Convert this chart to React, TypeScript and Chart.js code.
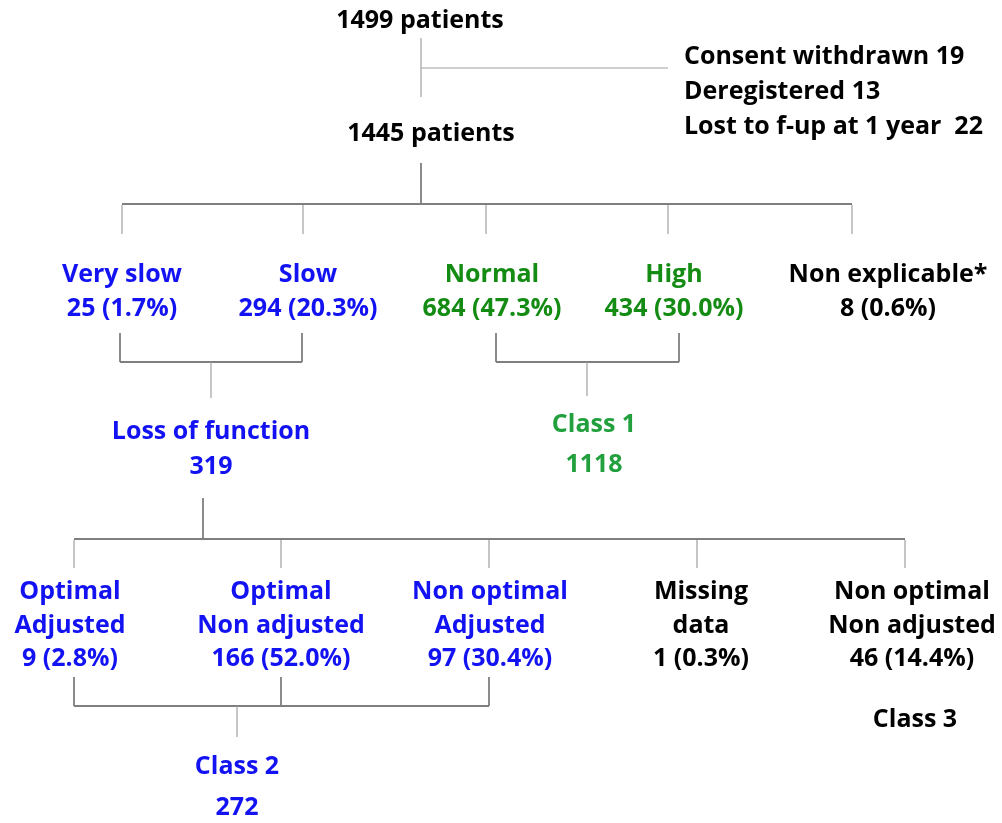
import React, { useEffect, useRef } from "react";
import { Chart, registerables } from "chart.js";

Chart.register(...registerables);

// ---- Colours ----
const BLUE = "#1212f2";
const GREEN = "#148c14";
const GREEN2 = "#22a03e";
const BLACK = "#000000";

// ---- Data: node labels (lines, x-centre, y-centre of first line, colour) ----
const topNodes = [
  { lines: ["1499 patients"], x: 420, y: 19, c: BLACK },
  { lines: ["1445 patients"], x: 431, y: 132, c: BLACK },
];
const exclusionLines = ["Consent withdrawn 19", "Deregistered 13", "Lost to f-up at 1 year  22"];
const exclusionX = 684;
const exclusionY = [55, 90, 125];

const level2Nodes = [
  { lines: ["Very slow", "25 (1.7%)"], x: 122, y: 273, c: BLUE },
  { lines: ["Slow", "294 (20.3%)"], x: 308, y: 273, c: BLUE },
  { lines: ["Normal", "684 (47.3%)"], x: 492, y: 273, c: GREEN },
  { lines: ["High", "434 (30.0%)"], x: 674, y: 273, c: GREEN },
  { lines: ["Non explicable*", "8 (0.6%)"], x: 888, y: 273, c: BLACK },
];
const groupNodes = [
  { lines: ["Loss of function", "319"], x: 211, y: 430, c: BLUE, gap: 35 },
  { lines: ["Class 1", "1118"], x: 594, y: 423, c: GREEN2, gap: 40 },
];
const level3Nodes = [
  { lines: ["Optimal", "Adjusted", "9 (2.8%)"], x: 70, y: 590, c: BLUE },
  { lines: ["Optimal", "Non adjusted", "166 (52.0%)"], x: 281, y: 590, c: BLUE },
  { lines: ["Non optimal", "Adjusted", "97 (30.4%)"], x: 490, y: 590, c: BLUE },
  { lines: ["Missing", "data", "1 (0.3%)"], x: 701, y: 590, c: BLACK },
  { lines: ["Non optimal", "Non adjusted", "46 (14.4%)"], x: 912, y: 590, c: BLACK },
];
const classNodes = [
  { lines: ["Class 2", "272"], x: 237, y: 765, c: BLUE, gap: 41 },
  { lines: ["Class 3"], x: 915, y: 718, c: BLACK, gap: 0 },
];

// ---- Connector segments [x1, y1, x2, y2] ----
const connectorsLight = [
  [421, 38, 421, 97],
  [421, 68, 668, 68],
  [122, 205, 122, 234],
  [303, 205, 303, 234],
  [486, 205, 486, 234],
  [668, 205, 668, 234],
  [852, 205, 852, 234],
  [211, 362, 211, 398],
  [587, 362, 587, 396],
  [74, 540, 74, 568],
  [281, 540, 281, 568],
  [489, 540, 489, 568],
  [697, 540, 697, 568],
  [905, 540, 905, 568],
  [237, 706, 237, 737],
];
const connectorsDark = [
  [421, 163, 421, 204],
  [122, 204, 852, 204],
  [120, 333, 120, 362],
  [302, 333, 302, 362],
  [120, 362, 302, 362],
  [496, 333, 496, 362],
  [679, 333, 679, 362],
  [496, 362, 679, 362],
  [203, 498, 203, 539],
  [74, 539, 905, 539],
  [74, 677, 74, 706],
  [281, 677, 281, 706],
  [489, 677, 489, 706],
  [74, 706, 489, 706],
];

const FONT = "'Open Sans'";
const FONT_SIZE = 25;
const CAP_HALF = 9; // baseline offset from visual centre of capitals

export default function App() {
  const ref = useRef<HTMLCanvasElement | null>(null);

  useEffect(() => {
    if (!ref.current) return;

    const toDataset = (seg: number[], color: string, w: number) => ({
      type: "scatter" as const,
      data: [
        { x: seg[0], y: seg[1] },
        { x: seg[2], y: seg[3] },
      ],
      showLine: true,
      borderColor: color,
      borderWidth: w,
      pointRadius: 0,
      fill: false,
    });

    const datasets = [
      ...connectorsLight.map((s) => toDataset(s, "#a0a0a0", 1.2)),
      ...connectorsDark.map((s) => toDataset(s, "#7f7f7f", 1.8)),
    ];

    const textPlugin = {
      id: "flowText",
      afterDraw(chart: any) {
        const { ctx } = chart;
        const xs = chart.scales.x;
        const ys = chart.scales.y;
        ctx.save();
        ctx.font = `bold ${FONT_SIZE}px ${FONT}`;
        ctx.textBaseline = "alphabetic";
        const put = (t: string, vx: number, vy: number) => {
          ctx.fillText(t, xs.getPixelForValue(vx), ys.getPixelForValue(vy) + CAP_HALF);
        };
        const drawNode = (n: any, gap: number) => {
          ctx.fillStyle = n.c;
          ctx.textAlign = "center";
          n.lines.forEach((t: string, i: number) => put(t, n.x, n.y + i * gap));
        };
        topNodes.forEach((n) => drawNode(n, 34));
        level2Nodes.forEach((n) => drawNode(n, 34));
        groupNodes.forEach((n) => drawNode(n, n.gap));
        level3Nodes.forEach((n) => drawNode(n, 33.5));
        classNodes.forEach((n) => drawNode(n, n.gap));
        ctx.textAlign = "left";
        ctx.fillStyle = BLACK;
        exclusionLines.forEach((t, i) => put(t, exclusionX, exclusionY[i]));
        ctx.restore();
      },
    };

    const chart = new Chart(ref.current, {
      type: "scatter",
      data: { datasets: datasets as any },
      options: {
        animation: false,
        responsive: false,
        maintainAspectRatio: false,
        layout: { padding: 0 },
        plugins: { legend: { display: false }, tooltip: { enabled: false } },
        events: [],
        scales: {
          x: { type: "linear", min: 0, max: 1002, display: false },
          y: { type: "linear", min: 0, max: 823, reverse: true, display: false },
        },
      },
      plugins: [textPlugin],
    });

    return () => chart.destroy();
  }, []);

  return (
    <div style={{ position: "absolute", left: 0, top: 0, width: 1002, height: 823, background: "#fff" }}>
      <canvas ref={ref} width={1002} height={823} />
    </div>
  );
}
